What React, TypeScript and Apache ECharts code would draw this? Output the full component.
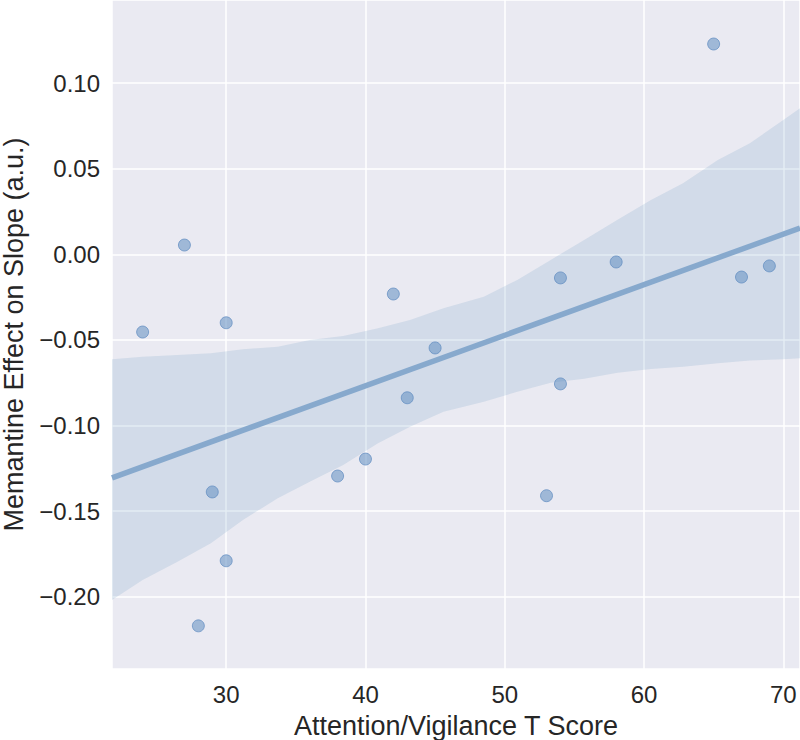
import React, { useEffect, useRef } from "react";
import * as echarts from "echarts";

// Scatter data: Attention/Vigilance T score vs memantine effect on slope
const tScores = [24, 27, 30, 29, 30, 28, 38, 40, 42, 43, 45, 54, 58, 54, 53, 65, 67, 69];
const effects = [
  -0.0454, 0.0054, -0.040, -0.1388, -0.179, -0.217, -0.1295, -0.1196, -0.0232,
  -0.0838, -0.0547, -0.0138, -0.0045, -0.0757, -0.141, 0.1228, -0.0133, -0.0068,
];

// Confidence band
const bandX = [21.8, 24.0, 26.5, 28.9, 31.2, 33.7, 36.0, 38.4, 40.9, 43.2, 45.6, 48.5, 50.9, 53.3, 55.7, 58.1, 60.5, 62.8, 65.3, 67.6, 70.0, 71.2];
const bandUpper = [-0.0613, -0.0598, -0.0588, -0.0578, -0.0555, -0.054, -0.0501, -0.0477, -0.0432, -0.0384, -0.0315, -0.0248, -0.015, -0.0033, 0.0084, 0.0201, 0.0317, 0.0415, 0.0551, 0.0648, 0.0784, 0.0853];
const bandLower = [-0.2019, -0.1902, -0.1796, -0.1688, -0.1552, -0.1425, -0.1328, -0.1231, -0.1104, -0.1007, -0.092, -0.0861, -0.0803, -0.075, -0.0727, -0.0692, -0.067, -0.0657, -0.0637, -0.0621, -0.0613, -0.0607];

// Axis extents
const xMin = 21.8;
const xMax = 71.2;
const yMin = -0.2422;
const yMax = 0.1485;

const FONT = "'Liberation Sans', Arial, Helvetica, sans-serif";
const TEXT = "#262626";

function fitLine(xs: number[], ys: number[]) {
  const n = xs.length;
  const mx = xs.reduce((a, b) => a + b, 0) / n;
  const my = ys.reduce((a, b) => a + b, 0) / n;
  let sxx = 0;
  let sxy = 0;
  for (let i = 0; i < n; i++) {
    sxx += (xs[i] - mx) * (xs[i] - mx);
    sxy += (xs[i] - mx) * (ys[i] - my);
  }
  const b = sxy / sxx;
  return { a: my - b * mx, b };
}

export default function App() {
  const ref = useRef<HTMLDivElement>(null);

  useEffect(() => {
    if (!ref.current) return;
    const chart = echarts.init(ref.current, undefined, { renderer: "svg" });
    const { a, b } = fitLine(tScores, effects);
    const lineData = [
      [xMin, a + b * xMin],
      [xMax, a + b * xMax],
    ];
    const scatterData = tScores.map((x, i) => [x, effects[i]]);

    chart.setOption({
      animation: false,
      backgroundColor: "#ffffff",
      grid: {
        left: 112,
        right: 0,
        top: 0,
        bottom: 71,
        show: true,
        backgroundColor: "#eaeaf2",
        borderWidth: 0,
        containLabel: false,
        outerBoundsMode: "none",
      },
      xAxis: {
        type: "value",
        min: xMin,
        max: xMax,
        splitNumber: 5,
        axisLine: { show: false },
        axisTick: { show: false },
        splitLine: { show: true, lineStyle: { color: "#ffffff", width: 1.5 } },
        axisLabel: {
          fontSize: 24,
          color: TEXT,
          fontFamily: FONT,
          margin: 13,
          formatter: (v: number) =>
            Math.abs(v / 10 - Math.round(v / 10)) < 1e-6 ? String(Math.round(v)) : "",
        },
        name: "Attention/Vigilance T Score",
        nameLocation: "middle",
        nameGap: 43,
        nameTextStyle: { fontSize: 27, color: TEXT, fontFamily: FONT },
      },
      yAxis: {
        type: "value",
        min: yMin,
        max: yMax,
        splitNumber: 8,
        axisLine: { show: false },
        axisTick: { show: false },
        splitLine: { show: true, lineStyle: { color: "#ffffff", width: 1.5 } },
        axisLabel: {
          fontSize: 24,
          color: TEXT,
          fontFamily: FONT,
          margin: 12,
          formatter: (v: number) => {
            const k = v / 0.05;
            if (Math.abs(k - Math.round(k)) > 1e-6) return "";
            const s = (Math.round(k) * 0.05).toFixed(2);
            return s.replace("-", "\u2212");
          },
        },
        name: "Memantine Effect on Slope (a.u.)",
        nameLocation: "middle",
        nameGap: 85,
        nameTextStyle: { fontSize: 27, color: TEXT, fontFamily: FONT },
      },
      series: [
        {
          type: "custom",
          clip: true,
          silent: true,
          z: 1,
          data: [0],
          renderItem: (_params: any, api: any) => {
            const pts: number[][] = [];
            for (let i = 0; i < bandX.length; i++) pts.push(api.coord([bandX[i], bandUpper[i]]));
            for (let i = bandX.length - 1; i >= 0; i--) pts.push(api.coord([bandX[i], bandLower[i]]));
            return {
              type: "polygon",
              shape: { points: pts },
              style: { fill: "rgba(74,134,180,0.15)", stroke: "none" },
            };
          },
        },
        {
          type: "line",
          data: lineData,
          showSymbol: false,
          symbol: "none",
          z: 2,
          lineStyle: { color: "#87a9cd", width: 5.5 },
        },
        {
          type: "scatter",
          data: scatterData,
          symbolSize: 12,
          z: 3,
          itemStyle: {
            color: "rgba(100,145,195,0.7)",
            borderColor: "rgba(90,135,190,0.85)",
            borderWidth: 1,
          },
        },
      ],
    });
    return () => chart.dispose();
  }, []);

  return (
    <div
      ref={ref}
      style={{ position: "fixed", left: 0, top: 0, width: 800, height: 740 }}
    />
  );
}
